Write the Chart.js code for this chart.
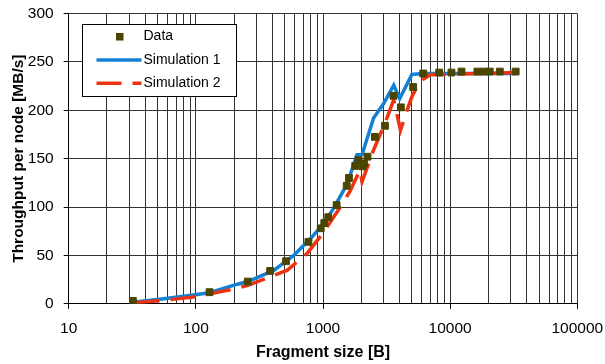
<!DOCTYPE html>
<html>
<head>
<meta charset="utf-8">
<script src="https://cdn.jsdelivr.net/npm/chart.js@4.4.1/dist/chart.umd.min.js"></script>
<style>
  html, body { margin: 0; padding: 0; background: #fff; }
</style>
</head>
<body>
<canvas id="myChart" width="605" height="364"></canvas>
<script>
//Measured throughput (squares)
const dataX = [32, 128, 256, 384, 512, 768, 960, 1024, 1100, 1280, 1536, 1600, 1792, 1900, 2048, 2100, 2240,
  2560, 3072, 3584, 4096, 5120, 6144, 8192, 10240, 12288, 16384, 18432, 20480, 24576, 32768]
const dataY = [3, 12, 23, 34, 44, 64, 78, 83.5, 89.5, 102, 122, 130, 142.5, 148.5, 142, 145, 152,
  172.5, 184, 215, 203, 224, 238, 239, 239, 240, 240, 240, 240, 240, 240]

//Simulation 1 (blue)
const sim1X = [32, 56, 102, 128, 209, 256, 410, 588, 818, 1024, 1211, 1550, 1850, 2027, 2500, 3000, 3600, 4010, 5000, 6144, 32768]
const sim1Y = [1.5, 5.2, 9.6, 11.5, 20, 23, 34.5, 50, 69, 84, 98.6, 124, 154, 154, 192, 207, 226, 212, 237, 238, 238]

//Simulation 2 (red, dashed)
const sim2X = [33, 56, 102, 186, 256, 521, 748, 1012, 1368, 1640, 1950, 2027, 2500, 3070, 3600, 4070, 4640, 5000, 5750, 6950, 32768]
const sim2Y = [1, 3.5, 7.6, 14.5, 19, 34.5, 51.8, 74, 100, 117, 138, 126, 159, 186.5, 210.7, 179.5, 202, 214, 229.6, 236.6, 239]

//Axes
const xTickLabels = [10, 100, 1000, 10000, 100000]
const xGridSteps = [1, 2, 3, 4, 5, 6, 7, 8, 9]
const yTicks = [0, 50, 100, 150, 200, 250, 300]

const pts = (xs, ys) => xs.map((x, i) => ({x: x, y: ys[i]}))

const xGridValues = []
xTickLabels.forEach(d => {
  if (d === 100000) { xGridValues.push(d); return }
  xGridSteps.forEach(s => xGridValues.push(d * s))
})

const FONT = '"Liberation Sans", Arial, sans-serif'

const insideLegend = {
  id: 'insideLegend',
  afterDraw(chart) {
    const ctx = chart.ctx
    const a = chart.chartArea
    const x = Math.round(a.left + 13) + 0.5
    const y = Math.round(a.top + 10) + 0.5
    const w = 154, h = 72
    ctx.save()
    ctx.fillStyle = '#fff'
    ctx.fillRect(x, y, w, h)
    ctx.strokeStyle = '#000'
    ctx.lineWidth = 1
    ctx.strokeRect(x, y, w, h)
    ctx.font = '14px ' + FONT
    ctx.textBaseline = 'middle'
    chart.data.datasets.forEach((ds, i) => {
      const rowY = y + 12 + i * 23.4
      if (ds.showLine === false) {
        ctx.fillStyle = ds.backgroundColor
        ctx.fillRect(x + 33.5, rowY - 3.5, 7.5, 7.5)
      } else {
        ctx.strokeStyle = ds.borderColor
        ctx.lineWidth = ds.borderWidth
        ctx.setLineDash(ds.borderDash || [])
        ctx.beginPath()
        ctx.moveTo(x + 14, rowY)
        ctx.lineTo(x + 59, rowY)
        ctx.stroke()
        ctx.setLineDash([])
      }
      ctx.fillStyle = '#000'
      ctx.fillText(ds.label, x + 61, rowY)
    })
    ctx.restore()
  }
}

const ctx = document.getElementById('myChart')
const myChart = new Chart(ctx, {
  type: 'scatter',
  data: {
    datasets: [
      {
        label: 'Data',
        data: pts(dataX, dataY),
        showLine: false,
        pointStyle: 'rect',
        pointRadius: 4.8,
        pointBorderWidth: 1,
        backgroundColor: '#4b4500',
        borderColor: '#4b4500',
        order: 0,
      },
      {
        label: 'Simulation 1',
        data: pts(sim1X, sim1Y),
        showLine: true,
        pointRadius: 0,
        borderColor: '#1380d6',
        backgroundColor: '#1380d6',
        borderWidth: 3.5,
        order: 2,
      },
      {
        label: 'Simulation 2',
        data: pts(sim2X, sim2Y),
        showLine: true,
        pointRadius: 0,
        borderColor: '#ec3412',
        backgroundColor: '#ec3412',
        borderWidth: 3.5,
        borderDash: [25, 11],
        order: 1,
      },
    ],
  },
  options: {
    responsive: false,
    animation: false,
    devicePixelRatio: 1,
    layout: { padding: { top: 13.5, right: 27.7, left: 0, bottom: 0 } },
    plugins: { legend: { display: false }, tooltip: { enabled: false } },
    scales: {
      x: {
        type: 'logarithmic',
        min: 10,
        max: 100000,
        afterBuildTicks: scale => { scale.ticks = xGridValues.map(v => ({value: v})) },
        afterFit: scale => {
          scale.height = 60.2
          scale.paddingLeft = 0
          scale.paddingRight = 0
        },
        ticks: {
          autoSkip: false,
          maxRotation: 0,
          padding: 11,
          color: '#000',
          font: { family: FONT, size: 15.5 },
          callback: v => xTickLabels.includes(v) ? String(v) : '',
        },
        grid: {
          color: '#333',
          tickLength: 5,
          tickColor: c => (c.tick && xTickLabels.includes(c.tick.value)) ? '#000' : 'rgba(0,0,0,0)',
        },
        border: { color: '#000' },
        title: {
          display: true,
          text: 'Fragment size [B]',
          color: '#000',
          font: { family: FONT, size: 16, weight: 'bold' },
          padding: { top: 0, bottom: 2 },
        },
      },
      y: {
        min: 0,
        max: 300,
        afterBuildTicks: scale => { scale.ticks = yTicks.map(v => ({value: v})) },
        afterFit: scale => {
          scale.width = 68.7
          scale.paddingTop = 0
          scale.paddingBottom = 0
        },
        ticks: {
          padding: 10,
          color: '#000',
          font: { family: FONT, size: 15.5 },
        },
        grid: { color: '#333', tickLength: 5, tickColor: '#000' },
        border: { color: '#000' },
        title: {
          display: true,
          text: 'Throughput per node [MB/s]',
          color: '#000',
          font: { family: FONT, size: 15.5, weight: 'bold' },
          padding: { top: 9, bottom: 0 },
        },
      },
    },
  },
  plugins: [insideLegend],
});
</script>
</body>
</html>
